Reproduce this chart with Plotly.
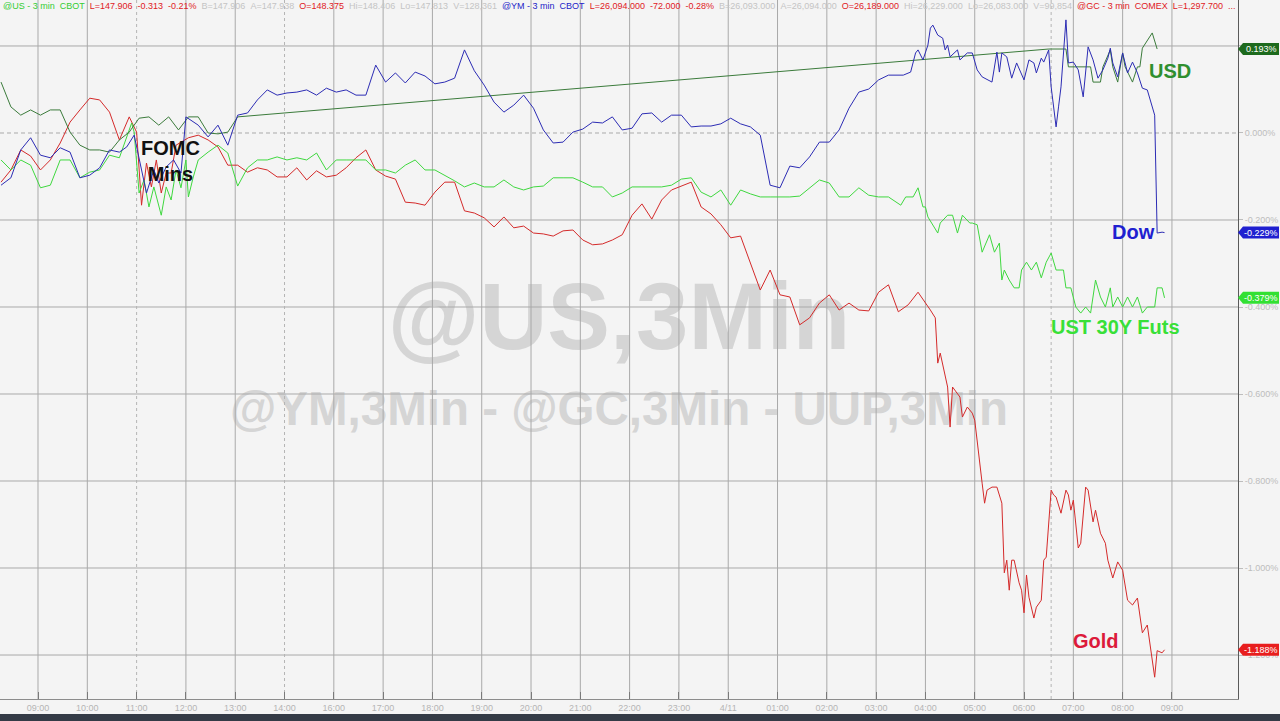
import plotly.graph_objects as go

# ---------------- data ----------------
# x = 3-minute bar number counted from 09:00 (one hour = 20 bars; 15:00 break removed)

dow_bars = (list(range(-15, 34, 4)) + [36, 39, 44, 47, 49, 52, 55, 58, 60]
            + list(range(65, 342, 4))
            + [345,348,351,354,356,357,359,361,362,363,365,367,368,369,370,373,374,377,379,381,
               383,387,389,390,391,393,395,397,400,402,404,405,407,408,410,411,413,414,415,417,
               418,420,422,424,426,428,430,432,434,435,436,438,440,442,444,446,448,450,452,453,
               454,456,457])
dow_pct = ([-0.120,-0.103,-0.039,-0.011,-0.051,-0.057,-0.034,-0.044,-0.103,-0.097,-0.080,-0.039,-0.044]
           + [-0.032,-0.005,-0.138,-0.085,-0.115,-0.078,-0.062,-0.092,0.037]
           + [0.018,-0.009,0.018,-0.028,0.041,0.046,0.076,0.099,0.087,0.092,
              0.094,0.099,0.087,0.103,0.094,0.099,0.087,0.087,0.156,0.117,
              0.138,0.115,0.140,0.131,0.113,0.117,0.126,0.191,0.143,0.110,
              0.071,0.048,0.064,0.087,0.057,0.007,-0.023,-0.021,0.002,0.009,
              0.025,0.023,0.037,0.007,0.011,0.044,0.046,0.025,0.041,0.041,
              0.014,0.016,0.016,0.021,0.034,0.021,0.014,-0.005,-0.120,-0.126,
              -0.076,-0.080,-0.055,-0.021,-0.021,0.007,0.057,0.094,0.101,0.122]
           + [0.133,0.133,0.133,0.140,0.184,0.191,0.168,0.202,0.241,0.248,
              0.225,0.218,0.191,0.202,0.175,0.191,0.168,0.184,0.184,0.145,
              0.129,0.117,0.186,0.140,0.184,0.175,0.126,0.161,0.122,0.168,
              0.161,0.138,0.172,0.163,0.191,0.106,0.014,0.060,0.106,0.260,
              0.161,0.163,0.145,0.083,0.198,0.168,0.126,0.145,0.172,0.195,
              0.161,0.129,0.184,0.138,0.163,0.138,0.103,0.099,0.060,0.041,
              -0.230,-0.228,-0.229])

usd_bars = (list(range(-15, 82, 4))
            + [410,417,418,427,428,431,432,435,436,438,440,441,444,446,447,448,452,454])
usd_pct = ([0.117,0.060,0.041,0.053,0.041,0.053,0.053,0.002,-0.028,-0.039,
            -0.039,-0.044,-0.016,0.002,0.034,0.037,0.018,0.037,0.007,0.037,
            0.037,0.000,-0.002,0.002,0.037]
           + [0.193,0.193,0.152,0.152,0.117,0.117,0.152,0.191,0.152,0.117,
              0.184,0.152,0.117,0.152,0.152,0.195,0.230,0.193])

ust_bars = (list(range(-15, 34, 4))
            + [38,39,41,43,45,47,49,50,52,54,56,58,60,61,63,65]
            + list(range(69, 346, 4))
            + [350,352,355,357,359,360,361,365,366,369,371,373,375,378,379,381,383,386,388,390,
               391,392,394,396,398,399,401,403,405,407,409,411,413,416,417,419,421,423,425,427,
               429,431,433,435,436,438,440,442,444,446,448,450,453,454,456,457])
ust_pct = ([-0.062,-0.085,-0.062,-0.074,-0.126,-0.120,-0.062,-0.062,-0.103,-0.090,-0.085,-0.051,-0.057]
           + [0.023,0.002,-0.138,-0.108,-0.170,-0.124,-0.170,-0.189,-0.124,-0.154,
              -0.085,-0.126,-0.062,-0.147,-0.101,-0.062]
           + [-0.044,-0.028,-0.046,-0.122,-0.080,-0.062,-0.062,-0.055,-0.062,
              -0.057,-0.062,-0.046,-0.085,-0.062,-0.062,-0.062,-0.062,-0.085,-0.085,
              -0.092,-0.074,-0.062,-0.085,-0.085,-0.097,-0.110,-0.124,-0.115,-0.124,
              -0.124,-0.108,-0.124,-0.131,-0.124,-0.122,-0.103,-0.103,-0.103,-0.113,
              -0.124,-0.124,-0.147,-0.138,-0.124,-0.124,-0.124,-0.124,-0.120,-0.106,
              -0.103,-0.136,-0.147,-0.131,-0.166,-0.131,-0.140,-0.147,-0.147,-0.147,
              -0.147,-0.145,-0.126,-0.108,-0.115,-0.147,-0.147,-0.126,-0.143,-0.147,
              -0.147]
           + [-0.166,-0.147,-0.147,-0.126,-0.170,-0.170,-0.193,-0.230,-0.207,-0.189,
              -0.189,-0.230,-0.189,-0.207,-0.207,-0.211,-0.274,-0.234,-0.274,-0.253,
              -0.338,-0.315,-0.338,-0.356,-0.356,-0.315,-0.297,-0.315,-0.297,-0.333,
              -0.297,-0.276,-0.315,-0.315,-0.356,-0.356,-0.400,-0.414,-0.400,-0.414,
              -0.338,-0.377,-0.400,-0.356,-0.400,-0.377,-0.400,-0.377,-0.400,-0.377,
              -0.414,-0.400,-0.400,-0.356,-0.356,-0.379])

gold_bars = (list(range(-15, 34, 4))
             + [37,40,41,42,44,46,48,50,52,54,56]
             + list(range(61, 358, 4))
             + [362,364,365,366,369,370,371,374,375,377,379,380,383,384,385,387,389,391,392,393,
                394,395,396,398,399,400,401,402,404,405,407,408,409,411,412,413,415,417,418,419,
                420,422,423,425,426,428,429,431,433,434,436,438,440,442,444,446,448,450,453,454,
                456,457])
gold_pct = ([-0.113,-0.085,-0.039,-0.053,-0.085,-0.062,-0.023,0.025,0.053,0.080,0.076,0.048,-0.016]
            + [0.037,0.002,-0.085,-0.166,-0.069,-0.124,-0.062,-0.138,-0.092,-0.092,-0.028]
            + [-0.011,
               -0.005,-0.016,-0.032,-0.074,-0.074,-0.090,-0.080,-0.085,-0.101,-0.101,
               -0.080,-0.108,-0.087,-0.101,-0.097,-0.080,-0.057,-0.039,-0.085,-0.099,
               -0.106,-0.159,-0.161,-0.166,-0.136,-0.113,-0.113,-0.179,-0.184,-0.195,
               -0.216,-0.193,-0.218,-0.214,-0.230,-0.232,-0.237,-0.225,-0.223,-0.246,
               -0.257,-0.255,-0.246,-0.234,-0.189,-0.163,-0.198,-0.154,-0.131,-0.122,
               -0.113,-0.170,-0.186,-0.211,-0.241,-0.237,-0.299,-0.361,-0.315,-0.372,
               -0.377,-0.441,-0.425,-0.391,-0.372,-0.407,-0.391,-0.407,-0.409,-0.366,
               -0.349,-0.411,-0.395,-0.366]
            + [-0.407,-0.425,-0.529,-0.506,-0.584,-0.676,-0.584,-0.607,-0.653,-0.630,
               -0.644,-0.660,-0.805,-0.851,-0.821,-0.814,-0.814,-0.851,-1.011,-0.982,
               -1.051,-0.982,-0.982,-1.034,-1.051,-1.103,-1.016,-1.067,-1.115,-1.090,
               -1.074,-0.982,-0.975,-0.821,-0.832,-0.837,-0.874,-0.821,-0.832,-0.867,
               -0.844,-0.954,-0.943,-0.814,-0.821,-0.894,-0.867,-0.920,-0.943,-0.982,
               -1.023,-0.986,-1.005,-1.074,-1.085,-1.069,-1.149,-1.131,-1.251,-1.190,
               -1.195,-1.188])

tick_bars = list(range(0, 461, 20))
tick_labels = ["09:00","10:00","11:00","12:00","13:00","14:00","16:00","17:00",
               "18:00","19:00","20:00","21:00","22:00","23:00","4/11","01:00",
               "02:00","03:00","04:00","05:00","06:00","07:00","08:00","09:00"]
dashed_bars = [40, 100, 411]
y_ticks = [0.2, 0.0, -0.2, -0.4, -0.6, -0.8, -1.0, -1.2]

header_texts = ["@US - 3 min\u00a0\u00a0CBOT", "L=147.906", "-0.313", "-0.21%", "B=147.906",
                "A=147.938", "O=148.375", "Hi=148.406", "Lo=147.813", "V=128,361",
                "@YM - 3 min\u00a0\u00a0CBOT", "L=26,094.000", "-72.000", "-0.28%", "B=26,093.000",
                "A=26,094.000", "O=26,189.000", "Hi=26,229.000", "Lo=26,083.000", "V=99,854",
                "@GC - 3 min\u00a0\u00a0COMEX", "L=1,297.700", "..."]
header_kinds = ["us", "r", "r", "r", "g", "g", "r", "g", "g", "g",
                "ym", "r", "r", "r", "g", "g", "r", "g", "g", "g",
                "r", "r", "r"]

# ---------------- layout constants ----------------
W, H = 1280, 721
PLOT_RIGHT = 1238
PLOT_BOTTOM = 699
X_RANGE = [-15.42, 486.8]
Y_RANGE = [-1.3011, 0.3057]
BG = "#f4f4f4"
FONT = "Arial, Liberation Sans, sans-serif"

C_DOW = "#2c2cb4"
C_USD = "#3b7b3b"
C_UST = "#3fd83f"
C_GOLD = "#d42a2a"

def px_x(p):
    return p / W

def px_y(p):
    return 1 - p / H

def yfrac(f):
    return Y_RANGE[0] + f * (Y_RANGE[1] - Y_RANGE[0])

fig = go.Figure()

# watermark (behind everything)
xc = (X_RANGE[0] + X_RANGE[1]) / 2
fig.add_trace(go.Scatter(
    x=[xc, xc], y=[yfrac(0.535), yfrac(0.409)], mode="text",
    text=["@US,3Min", "@YM,3Min - @GC,3Min - UUP,3Min"],
    textfont=dict(size=[94, 47.5], color="#d5d5d5", family=FONT, weight="bold"),
    hoverinfo="skip", showlegend=False))

# grid lines as traces (above watermark, below data)
def seg_lines(vals, vertical):
    xs, ys = [], []
    for v in vals:
        if vertical:
            xs += [v, v, None]
            ys += [Y_RANGE[0], Y_RANGE[1], None]
        else:
            xs += [X_RANGE[0], X_RANGE[1], None]
            ys += [v, v, None]
    return xs, ys

solid_v = [b for b in tick_bars if b not in dashed_bars]
hx, hy = seg_lines([v for v in y_ticks if v != 0.0], False)
vx, vy = seg_lines(solid_v, True)
fig.add_trace(go.Scatter(x=hx + vx, y=hy + vy, mode="lines",
                         line=dict(color="#a9a9a9", width=1),
                         hoverinfo="skip", showlegend=False))
dvx, dvy = seg_lines(dashed_bars, True)
fig.add_trace(go.Scatter(x=dvx, y=dvy, mode="lines",
                         line=dict(color="#b4b4b4", width=1, dash="3px,3px"),
                         hoverinfo="skip", showlegend=False))
zx, zy = seg_lines([0.0], False)
fig.add_trace(go.Scatter(x=zx, y=zy, mode="lines",
                         line=dict(color="#a9a9a9", width=1, dash="4px,3px"),
                         hoverinfo="skip", showlegend=False))

# data series
fig.add_trace(go.Scatter(x=gold_bars, y=gold_pct, mode="lines", name="Gold",
                         line=dict(color=C_GOLD, width=1)))
fig.add_trace(go.Scatter(x=ust_bars, y=ust_pct, mode="lines", name="UST 30Y Futs",
                         line=dict(color=C_UST, width=1)))
fig.add_trace(go.Scatter(x=usd_bars, y=usd_pct, mode="lines", name="USD",
                         line=dict(color=C_USD, width=1)))
fig.add_trace(go.Scatter(x=dow_bars, y=dow_pct, mode="lines", name="Dow",
                         line=dict(color=C_DOW, width=1)))

shapes = []
annotations = []

# last-value tags on the right axis
tags = [(usd_pct[-1], "#1d6a1d"), (dow_pct[-1], "#1f1fd0"),
        (ust_pct[-1], "#33e033"), (gold_pct[-1], "#e81e1e")]
for val, col in tags:
    shapes.append(dict(type="path", xref="paper", yref="y",
                       xsizemode="pixel", ysizemode="pixel",
                       xanchor=px_x(PLOT_RIGHT), yanchor=val,
                       path="M0,0 L5,6 L41,6 L41,-6 L5,-6 Z",
                       fillcolor=col, line=dict(width=0), layer="above"))
    annotations.append(dict(xref="paper", yref="y", x=px_x(1261), y=val,
                            text=f"{val:.3f}%", showarrow=False,
                            xanchor="center", yanchor="middle",
                            font=dict(size=9, color="white", family=FONT)))

# series labels
labels = [("FOMC<br>Mins", 170, 161, "#111111"), ("USD", 1170, 71, "#2f8f2f"),
          ("Dow", 1133, 232, "#2020d0"), ("UST 30Y Futs", 1115, 327, "#38e038"),
          ("Gold", 1096, 641, "#dc1a3a")]
for txt, x, y, col in labels:
    annotations.append(dict(xref="paper", yref="paper", x=px_x(x), y=px_y(y),
                            text=f"<b>{txt}</b>", showarrow=False,
                            xanchor="center", yanchor="middle",
                            font=dict(size=20, color=col, family=FONT)))

# header line (one text run, coloured spans)
kind_col = {"us": "#33cc33", "ym": "#2323c8", "r": "#e0201e", "g": "#c4c4c4"}
gap = "\u00a0\u00a0"
header_html = gap.join(f'<span style="color:{kind_col[k]}">{t}</span>'
                       for t, k in zip(header_texts, header_kinds))
annotations.append(dict(xref="paper", yref="paper", x=px_x(1), y=px_y(6),
                        text=header_html, showarrow=False, xanchor="left",
                        yanchor="middle",
                        font=dict(size=9, color="#c4c4c4", family=FONT)))

# bottom dark strip
shapes.append(dict(type="rect", xref="paper", yref="paper", x0=0, x1=1,
                   y0=0, y1=px_y(714), fillcolor="#343b46",
                   line=dict(width=0), layer="above"))

fig.update_layout(
    width=W, height=H,
    margin=dict(l=0, r=0, t=0, b=0),
    paper_bgcolor=BG, plot_bgcolor=BG,
    showlegend=False,
    shapes=shapes, annotations=annotations,
    xaxis=dict(domain=[0, px_x(PLOT_RIGHT)], range=X_RANGE,
               tickvals=tick_bars, ticktext=tick_labels,
               showgrid=False, zeroline=False, showline=True,
               linecolor="#8c8c8c", linewidth=1,
               ticks="inside", ticklen=7, tickcolor="#7a7a7a",
               tickfont=dict(size=9, color="#b5b5b5", family=FONT)),
    yaxis=dict(domain=[px_y(PLOT_BOTTOM), 1], range=Y_RANGE, side="right",
               tickvals=y_ticks, ticktext=[f"{v:.3f}%" for v in y_ticks],
               showgrid=False, zeroline=False, showline=True,
               linecolor="#5a5a5a", linewidth=1,
               ticks="outside", ticklen=4, tickcolor="#bdbdbd",
               tickfont=dict(size=9, color="#bdbdbd", family=FONT)),
)

fig.write_html(
    "out.html",
    config={"displayModeBar": False},
    post_script=("document.body.style.margin='0px';"
                 "document.body.style.padding='0px';"
                 "document.documentElement.style.overflow='hidden';"),
)
